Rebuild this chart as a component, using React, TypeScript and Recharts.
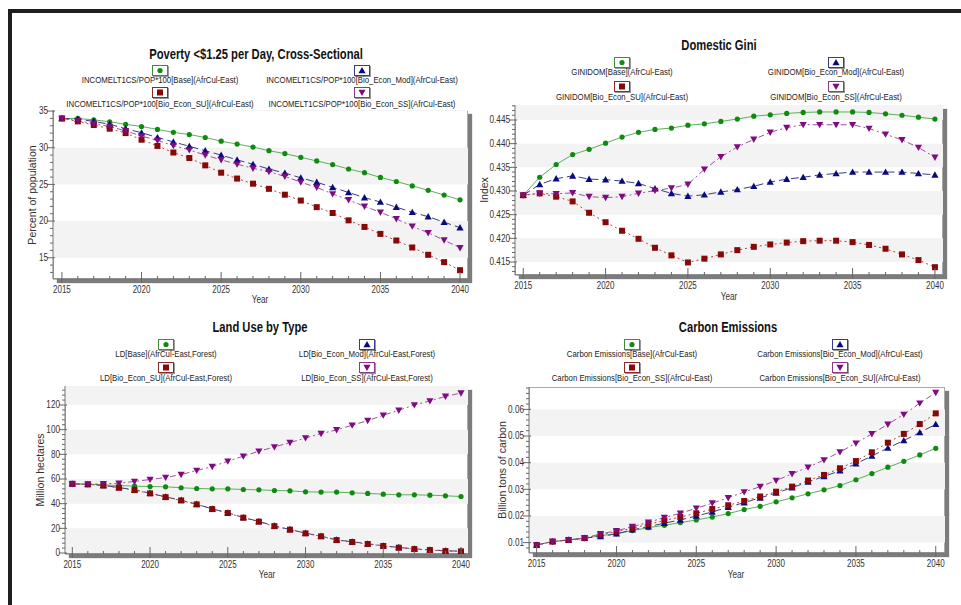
import React from 'react';
import { LineChart, Line, XAxis, YAxis, ReferenceArea } from 'recharts';

const years = [
  2015, 2016, 2017, 2018, 2019, 2020, 2021, 2022, 2023, 2024, 2025, 2026, 2027,
  2028, 2029, 2030, 2031, 2032, 2033, 2034, 2035, 2036, 2037, 2038, 2039, 2040,
];
const yearLabels = [2015, 2020, 2025, 2030, 2035, 2040];

// Poverty <$1.25 per day (percent of population)
const povertyBase = [34.0, 34.0, 33.8, 33.55, 33.2, 32.9, 32.5, 32.1, 31.8, 31.4, 30.9, 30.5, 30.1, 29.6, 29.2, 28.7, 28.2, 27.7, 27.1, 26.6, 25.95, 25.4, 24.8, 24.2, 23.55, 22.9];
const povertyMod = [34.0, 33.9, 33.6, 33.2, 32.6, 32.05, 31.4, 30.8, 30.2, 29.6, 29.0, 28.35, 27.75, 27.1, 26.55, 25.9, 25.3, 24.6, 23.9, 23.2, 22.6, 21.9, 21.2, 20.6, 19.85, 19.1];
const povertySU = [34.0, 33.6, 33.1, 32.6, 32.0, 31.1, 30.25, 29.35, 28.6, 27.6, 26.6, 25.8, 25.1, 24.4, 23.6, 22.8, 21.9, 21.1, 20.1, 19.2, 18.25, 17.35, 16.4, 15.4, 14.4, 13.3];
const povertySS = [34.0, 33.7, 33.3, 32.9, 32.3, 31.6, 31.0, 30.3, 29.7, 29.0, 28.35, 27.75, 27.2, 26.75, 26.1, 25.3, 24.6, 23.7, 22.9, 22.0, 21.2, 20.3, 19.3, 18.4, 17.4, 16.35];
const povertyTicks = [15, 20, 25, 30, 35];

// Domestic Gini
const giniBase = [0.4291, 0.4329, 0.4356, 0.4377, 0.4388, 0.4401, 0.4414, 0.4424, 0.443, 0.4433, 0.4439, 0.4442, 0.4447, 0.4452, 0.4458, 0.4461, 0.4464, 0.4466, 0.4467, 0.4467, 0.4467, 0.4466, 0.4463, 0.446, 0.4456, 0.4452];
const giniMod = [0.4291, 0.4314, 0.4326, 0.4332, 0.4325, 0.4324, 0.4321, 0.4316, 0.4305, 0.4295, 0.4289, 0.4292, 0.4298, 0.4303, 0.431, 0.4319, 0.4325, 0.4329, 0.4334, 0.4337, 0.434, 0.434, 0.434, 0.434, 0.4337, 0.4334];
const giniSU = [0.4291, 0.4295, 0.4288, 0.4278, 0.4254, 0.4234, 0.4216, 0.4199, 0.418, 0.4164, 0.4149, 0.4157, 0.4166, 0.4175, 0.4182, 0.4187, 0.4191, 0.4194, 0.4195, 0.4195, 0.4192, 0.4186, 0.4178, 0.4166, 0.4154, 0.4139];
const giniSS = [0.4291, 0.4295, 0.4294, 0.4296, 0.4288, 0.4286, 0.4288, 0.4295, 0.4301, 0.4306, 0.4314, 0.4346, 0.4372, 0.4393, 0.4409, 0.4424, 0.4434, 0.444, 0.444, 0.444, 0.444, 0.4432, 0.442, 0.4408, 0.4392, 0.4371];
const giniTicks = [0.415, 0.42, 0.425, 0.43, 0.435, 0.44, 0.445];

// Land use, forest (million hectares)
const landBase = [56.1, 55.8, 55.3, 54.7, 54.2, 53.9, 53.7, 52.9, 52.3, 52.0, 52.0, 51.5, 51.2, 50.7, 50.4, 49.6, 49.4, 49.4, 48.8, 48.3, 47.7, 47.2, 47.2, 46.9, 46.4, 45.8];
const landMod = [56.1, 55.7, 54.8, 53.1, 51.2, 48.5, 45.5, 42.8, 39.6, 35.8, 32.6, 28.8, 25.6, 22.0, 19.1, 16.1, 13.7, 10.7, 9.1, 7.5, 5.9, 4.5, 3.4, 2.6, 1.8, 1.5];
const landSU = [56.1, 55.6, 54.7, 52.9, 51.0, 48.3, 45.3, 42.6, 39.4, 35.6, 32.4, 28.6, 25.4, 21.8, 18.9, 15.9, 13.5, 10.5, 8.9, 7.3, 5.7, 4.3, 3.2, 2.4, 1.6, 1.3];
const landSS = [56.1, 55.8, 56.1, 56.6, 58.0, 59.6, 61.2, 63.6, 66.9, 70.1, 74.4, 78.5, 82.5, 86.0, 89.5, 93.3, 96.8, 99.8, 103.6, 107.3, 111.7, 115.7, 120.0, 123.3, 127.0, 129.7];
const landTicks = [0, 20, 40, 60, 80, 100, 120];

// Carbon emissions (billion tons of carbon)
const carbonBase = [0.0091, 0.0104, 0.011, 0.0116, 0.0126, 0.0133, 0.0145, 0.0156, 0.0165, 0.0175, 0.0185, 0.0196, 0.0209, 0.0224, 0.0236, 0.0253, 0.0268, 0.0283, 0.0298, 0.0314, 0.0336, 0.0359, 0.0383, 0.0405, 0.0429, 0.0454];
const carbonMod = [0.0091, 0.0104, 0.011, 0.0117, 0.0123, 0.0133, 0.0148, 0.016, 0.0173, 0.0185, 0.02, 0.0215, 0.0233, 0.025, 0.0268, 0.0286, 0.0306, 0.0328, 0.0348, 0.037, 0.0396, 0.0425, 0.0455, 0.0483, 0.0513, 0.0544];
const carbonSS = [0.0091, 0.0104, 0.011, 0.0117, 0.0129, 0.0141, 0.0154, 0.0169, 0.0183, 0.0196, 0.021, 0.0226, 0.024, 0.0256, 0.0273, 0.0291, 0.031, 0.0333, 0.0354, 0.0379, 0.0406, 0.0439, 0.0475, 0.0508, 0.0545, 0.0585];
const carbonSU = [0.0091, 0.0104, 0.011, 0.0117, 0.0133, 0.0144, 0.016, 0.0176, 0.0194, 0.021, 0.0229, 0.0248, 0.0268, 0.029, 0.031, 0.0333, 0.0358, 0.0383, 0.041, 0.044, 0.0473, 0.0508, 0.0544, 0.0581, 0.0623, 0.0663];
const carbonTicks = [0.01, 0.02, 0.03, 0.04, 0.05, 0.06];

const FONT = "'Liberation Sans', Arial, sans-serif";
const SQUEEZE = 0.82; // the source uses a condensed face

type Shape = 'circle' | 'square' | 'up' | 'down';
interface Style { line: string; marker: string; border: string; dash?: string; shape: Shape }

const STYLES: Record<string, Style> = {
  green: { line: '#5cb05c', marker: '#0e8a0e', border: '#3c8c3c', shape: 'circle' },
  blue: { line: '#3c3c86', marker: '#0a0a80', border: '#3a3a8a', dash: '8 4', shape: 'up' },
  red: { line: '#b04848', marker: '#860808', border: '#8a2a2a', dash: '2 3', shape: 'square' },
  purple: { line: '#a050a0', marker: '#800a80', border: '#8a3a8a', dash: '6 3 2 3', shape: 'down' },
};

function Marker({ cx, cy, style }: { cx: number; cy: number; style: Style }) {
  const c = style.marker;
  if (style.shape === 'circle') return <circle cx={cx} cy={cy} r={2.6} fill={c} />;
  if (style.shape === 'square') return <rect x={cx - 3} y={cy - 3} width={6} height={6} fill={c} />;
  if (style.shape === 'up')
    return <polygon points={`${cx},${cy - 3.6} ${cx + 3.6},${cy + 2.8} ${cx - 3.6},${cy + 2.8}`} fill={c} />;
  return <polygon points={`${cx},${cy + 3.6} ${cx + 3.6},${cy - 2.8} ${cx - 3.6},${cy - 2.8}`} fill={c} />;
}

function LegendIcon({ style }: { style: Style }) {
  return (
    <div
      style={{
        width: 14,
        height: 9,
        border: `1px solid ${style.border}`,
        background: '#fff',
        boxShadow: '1px 1px 0 #999',
      }}
    >
      <svg width={14} height={9} style={{ display: 'block' }}>
        <Marker cx={7} cy={4.5} style={style} />
      </svg>
    </div>
  );
}

interface Series { key: string; label: string; values: number[]; style: Style }

interface PanelProps {
  title: string;
  titleX: number;
  titleY: number;
  legendCols: number[];
  legendIconY: number[];
  legendTextY: number[];
  series: Series[]; // order: TL, TR, BL, BR
  drawOrder: string[];
  plot: { x: number; y: number; w: number; h: number };
  xDomain: [number, number];
  yDomain: [number, number];
  yTicks: number[];
  yMinorStep: number;
  fmt: (v: number) => string;
  yLabel: string;
  yLabelX: number;
  xLabelX: number;
  xLabelY: number;
}

const AXIS_W = 45;
const AXIS_H = 30;
const M_TOP = 8;
const M_RIGHT = 6;

function Panel(p: PanelProps) {
  const data = years.map((year, i) => {
    const row: Record<string, number> = { year };
    p.series.forEach((s) => (row[s.key] = s.values[i]));
    return row;
  });

  const [lo, hi] = p.yDomain;
  const minor: number[] = [];
  const start = Math.ceil(lo / p.yMinorStep - 1e-6) * p.yMinorStep;
  for (let v = start; v <= hi + 1e-9; v += p.yMinorStep) minor.push(+v.toFixed(6));
  const isMajor = (v: number) => p.yTicks.some((t) => Math.abs(t - v) < 1e-7);

  const bands: [number, number][] = [];
  for (let i = 0; i < p.yTicks.length; i += 2) bands.push([p.yTicks[i], p.yTicks[i + 1] ?? hi]);

  const { x, y, w, h } = p.plot;
  const byKey = Object.fromEntries(p.series.map((s) => [s.key, s]));

  const yTick = (props: any) => {
    const v = props.payload.value;
    const major = isMajor(v);
    return (
      <g>
        <line x1={props.x - (major ? 6 : 3)} x2={props.x + (major ? 2 : 0)} y1={props.y} y2={props.y} stroke="#666" />
        {major && (
          <text
            transform={`translate(${props.x - 5} ${props.y + 3.4}) scale(${SQUEEZE} 1)`}
            textAnchor="end"
            fontSize={10}
            fill="#333"
            fontFamily={FONT}
          >
            {p.fmt(v)}
          </text>
        )}
      </g>
    );
  };

  const xTick = (props: any) => {
    const v = props.payload.value;
    const major = yearLabels.includes(v);
    return (
      <g>
        <line x1={props.x} x2={props.x} y1={props.y - (major ? 7 : 3)} y2={props.y + (major ? 4 : 0)} stroke="#666" />
        {major && (
          <text
            transform={`translate(${props.x} ${props.y + 14}) scale(0.8 1)`}
            textAnchor="middle"
            fontSize={10}
            fill="#333"
            fontFamily={FONT}
          >
            {v}
          </text>
        )}
      </g>
    );
  };

  const text = (left: number, top: number, content: string, extra: React.CSSProperties = {}) => (
    <div
      style={{
        position: 'absolute',
        left,
        top,
        transform: `translate(-50%, -50%) scaleX(${SQUEEZE})`,
        whiteSpace: 'nowrap',
        fontFamily: FONT,
        fontSize: 9.5,
        color: '#222',
        lineHeight: 1,
        ...extra,
      }}
    >
      {content}
    </div>
  );

  return (
    <>
      {text(p.titleX, p.titleY, p.title, { fontSize: 14, fontWeight: 'bold', color: '#111', transform: 'translate(-50%, -50%) scaleX(0.8)' })}
      {p.series.map((s, i) => {
        const col = p.legendCols[i % 2];
        const row = Math.floor(i / 2);
        return (
          <React.Fragment key={s.key}>
            <div style={{ position: 'absolute', left: col - 8, top: p.legendIconY[row] - 5 }}>
              <LegendIcon style={s.style} />
            </div>
            {text(col, p.legendTextY[row], s.label)}
          </React.Fragment>
        );
      })}
      <div
        style={{
          position: 'absolute',
          left: x,
          top: y,
          width: w,
          height: h,
          background: '#fff',
          boxSizing: 'border-box',
          border: '1px solid #aaa',
          boxShadow: '4px 4px 1px #7c7c7c',
        }}
      />
      <div style={{ position: 'absolute', left: x - AXIS_W, top: y - M_TOP }}>
        <LineChart
          width={AXIS_W + w + M_RIGHT}
          height={M_TOP + h + AXIS_H}
          data={data}
          margin={{ top: M_TOP, right: M_RIGHT, bottom: 0, left: 0 }}
        >
          {bands.map(([a, b], i) => (
            <ReferenceArea key={i} y1={a} y2={b} fill="#f3f3f3" fillOpacity={1} stroke="none" ifOverflow="hidden" />
          ))}
          <XAxis
            dataKey="year"
            type="number"
            domain={p.xDomain}
            ticks={years}
            interval={0}
            allowDataOverflow
            height={AXIS_H}
            tickSize={0}
            tickMargin={0}
            tickLine={false}
            axisLine={{ stroke: '#777' }}
            tick={xTick}
          />
          <YAxis
            type="number"
            domain={p.yDomain}
            ticks={minor}
            interval={0}
            allowDataOverflow
            width={AXIS_W}
            tickSize={0}
            tickMargin={0}
            tickLine={false}
            axisLine={{ stroke: '#777' }}
            tick={yTick}
          />
          {p.drawOrder.map((k) => {
            const s = byKey[k];
            return (
              <Line
                key={k}
                type="linear"
                dataKey={k}
                stroke={s.style.line}
                strokeWidth={1}
                strokeDasharray={s.style.dash}
                isAnimationActive={false}
                activeDot={false}
                dot={(d: any) => <Marker key={`${k}-${d.index}`} cx={d.cx} cy={d.cy} style={s.style} />}
              />
            );
          })}
        </LineChart>
      </div>
      {text(p.yLabelX, y + h / 2, p.yLabel, {
        transform: 'translate(-50%, -50%) rotate(-90deg)',
        fontSize: 10.5,
        color: '#333',
      })}
      {text(p.xLabelX, p.xLabelY, 'Year', { fontSize: 10, color: '#333' })}
    </>
  );
}

const ORDER = ['base', 'mod', 'su', 'ss'];

export default function App() {
  return (
    <div
      style={{
        position: 'absolute',
        left: 0,
        top: 0,
        width: 961,
        height: 605,
        background: '#fff',
        overflow: 'hidden',
        fontFamily: FONT,
      }}
    >
      <div style={{ position: 'absolute', left: 8, top: 9, width: 953, height: 4, background: '#1e1e1e' }} />
      <div style={{ position: 'absolute', left: 8, top: 9, width: 4, height: 596, background: '#1e1e1e' }} />

      <Panel
        title="Poverty <$1.25 per Day, Cross-Sectional"
        titleX={256}
        titleY={54}
        legendCols={[160, 362]}
        legendIconY={[70, 92]}
        legendTextY={[80, 104]}
        series={[
          { key: 'base', label: 'INCOMELT1CS/POP*100[Base](AfrCul-East)', values: povertyBase, style: STYLES.green },
          { key: 'mod', label: 'INCOMELT1CS/POP*100[Bio_Econ_Mod](AfrCul-East)', values: povertyMod, style: STYLES.blue },
          { key: 'su', label: 'INCOMELT1CS/POP*100[Bio_Econ_SU](AfrCul-East)', values: povertySU, style: STYLES.red },
          { key: 'ss', label: 'INCOMELT1CS/POP*100[Bio_Econ_SS](AfrCul-East)', values: povertySS, style: STYLES.purple },
        ]}
        drawOrder={ORDER}
        plot={{ x: 53, y: 110, w: 415, h: 169 }}
        xDomain={[2014.44, 2040.5]}
        yDomain={[12.1, 35.15]}
        yTicks={povertyTicks}
        yMinorStep={1}
        fmt={(v) => String(v)}
        yLabel="Percent of population"
        yLabelX={32}
        xLabelX={260}
        xLabelY={300}
      />

      <Panel
        title="Domestic Gini"
        titleX={719}
        titleY={45}
        legendCols={[622, 836]}
        legendIconY={[62, 86]}
        legendTextY={[72, 97]}
        series={[
          { key: 'base', label: 'GINIDOM[Base](AfrCul-East)', values: giniBase, style: STYLES.green },
          { key: 'mod', label: 'GINIDOM[Bio_Econ_Mod](AfrCul-East)', values: giniMod, style: STYLES.blue },
          { key: 'su', label: 'GINIDOM[Bio_Econ_SU](AfrCul-East)', values: giniSU, style: STYLES.red },
          { key: 'ss', label: 'GINIDOM[Bio_Econ_SS](AfrCul-East)', values: giniSS, style: STYLES.purple },
        ]}
        drawOrder={ORDER}
        plot={{ x: 515, y: 105, w: 428, h: 170 }}
        xDomain={[2014.5, 2040.49]}
        yDomain={[0.41225, 0.44817]}
        yTicks={giniTicks}
        yMinorStep={0.001}
        fmt={(v) => v.toFixed(3)}
        yLabel="Index"
        yLabelX={484}
        xLabelX={729}
        xLabelY={297}
      />

      <Panel
        title="Land Use by Type"
        titleX={260}
        titleY={327}
        legendCols={[166, 367]}
        legendIconY={[344, 367]}
        legendTextY={[354, 378]}
        series={[
          { key: 'base', label: 'LD[Base](AfrCul-East,Forest)', values: landBase, style: STYLES.green },
          { key: 'mod', label: 'LD[Bio_Econ_Mod](AfrCul-East,Forest)', values: landMod, style: STYLES.blue },
          { key: 'su', label: 'LD[Bio_Econ_SU](AfrCul-East,Forest)', values: landSU, style: STYLES.red },
          { key: 'ss', label: 'LD[Bio_Econ_SS](AfrCul-East,Forest)', values: landSS, style: STYLES.purple },
        ]}
        drawOrder={ORDER}
        plot={{ x: 65, y: 386, w: 403, h: 168 }}
        xDomain={[2014.53, 2040.45]}
        yDomain={[-0.8, 135.4]}
        yTicks={landTicks}
        yMinorStep={4}
        fmt={(v) => String(v)}
        yLabel="Million hectares"
        yLabelX={40}
        xLabelX={267}
        xLabelY={575}
      />

      <Panel
        title="Carbon Emissions"
        titleX={728}
        titleY={327}
        legendCols={[632, 840]}
        legendIconY={[344, 367]}
        legendTextY={[354, 378]}
        series={[
          { key: 'base', label: 'Carbon Emissions[Base](AfrCul-East)', values: carbonBase, style: STYLES.green },
          { key: 'mod', label: 'Carbon Emissions[Bio_Econ_Mod](AfrCul-East)', values: carbonMod, style: STYLES.blue },
          { key: 'ss', label: 'Carbon Emissions[Bio_Econ_SS](AfrCul-East)', values: carbonSS, style: STYLES.red },
          { key: 'su', label: 'Carbon Emissions[Bio_Econ_SU](AfrCul-East)', values: carbonSU, style: STYLES.purple },
        ]}
        drawOrder={['base', 'mod', 'ss', 'su']}
        plot={{ x: 529, y: 387, w: 416, h: 166 }}
        xDomain={[2014.52, 2040.58]}
        yDomain={[0.0061, 0.0684]}
        yTicks={carbonTicks}
        yMinorStep={0.002}
        fmt={(v) => v.toFixed(2)}
        yLabel="Billion tons of carbon"
        yLabelX={502}
        xLabelX={736}
        xLabelY={575}
      />
    </div>
  );
}
